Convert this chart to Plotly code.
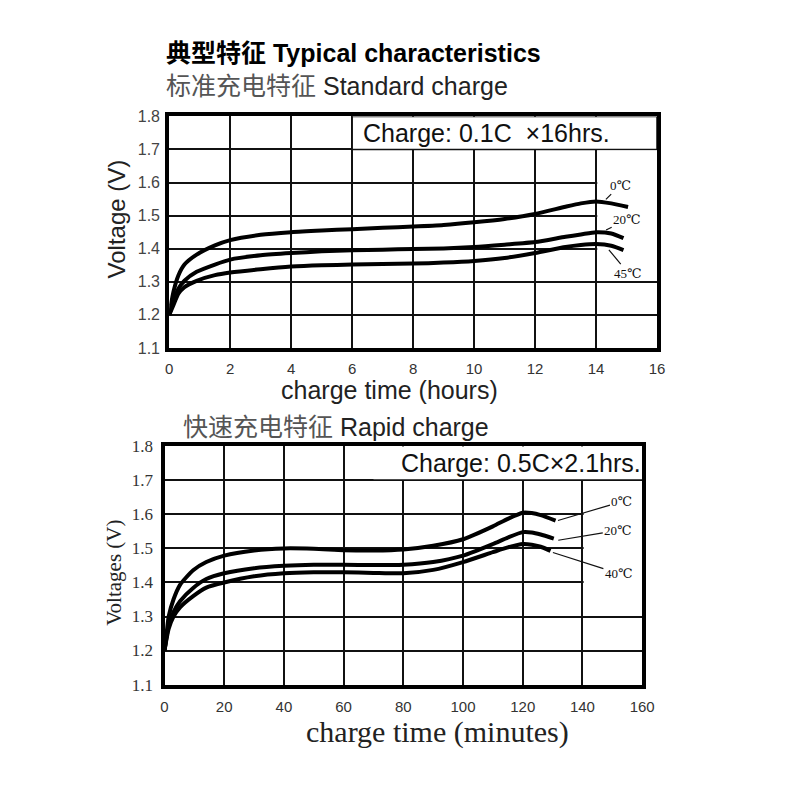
import plotly.graph_objects as go

# ---------------- data: standard charge (0.1C x 16 h) ----------------
std_t_0 = [0, 0.14, 0.3, 0.5, 0.9, 1.5, 2, 3, 4, 5, 6, 7, 8, 9, 10, 11, 12, 13, 13.5, 14, 14.5, 15.05]
std_v_0 = [1.20, 1.27, 1.319, 1.352, 1.382, 1.41, 1.426, 1.442, 1.45, 1.455, 1.459, 1.463, 1.467, 1.472,
           1.48, 1.49, 1.505, 1.527, 1.537, 1.543, 1.537, 1.526]
std_t_20 = [0, 0.14, 0.3, 0.5, 0.9, 1.5, 2, 3, 4, 5, 6, 7, 8, 9, 10, 11, 12, 13, 13.5, 14, 14.5, 14.9]
std_v_20 = [1.20, 1.24, 1.279, 1.303, 1.33, 1.352, 1.367, 1.38, 1.387, 1.392, 1.395, 1.397, 1.399, 1.401,
            1.405, 1.412, 1.42, 1.436, 1.443, 1.45, 1.446, 1.432]
std_t_45 = [0, 0.14, 0.3, 0.5, 0.9, 1.5, 2, 3, 4, 5, 6, 7, 8, 9, 10, 11, 12, 13, 13.5, 14, 14.5, 14.9]
std_v_45 = [1.20, 1.23, 1.264, 1.284, 1.303, 1.32, 1.328, 1.338, 1.346, 1.35, 1.352, 1.354, 1.355,
            1.358, 1.363, 1.372, 1.387, 1.405, 1.411, 1.414, 1.409, 1.396]

# ---------------- data: rapid charge (0.5C x 2.1 h) ----------------
rap_t_0 = [0, 0.7, 1.4, 3, 5.2, 9.6, 14, 20, 30, 40, 50, 60, 70, 80, 90, 100, 110, 115, 120, 123, 126, 131]
rap_v_0 = [1.20, 1.25, 1.30, 1.35, 1.393, 1.436, 1.46, 1.479, 1.494, 1.50, 1.499, 1.495, 1.494, 1.497,
           1.508, 1.527, 1.565, 1.587, 1.605, 1.604, 1.598, 1.582]
rap_t_20 = [0, 0.7, 1.4, 3, 5.2, 9.6, 14, 20, 30, 40, 50, 60, 70, 80, 90, 100, 110, 115, 120, 123, 126, 130.4]
rap_v_20 = [1.20, 1.24, 1.274, 1.313, 1.345, 1.384, 1.41, 1.427, 1.442, 1.449, 1.452, 1.452, 1.451,
            1.452, 1.46, 1.479, 1.513, 1.532, 1.548, 1.547, 1.541, 1.529]
rap_t_40 = [0, 0.7, 1.4, 3, 5.2, 9.6, 14, 20, 30, 40, 50, 60, 70, 80, 90, 100, 110, 115, 120, 123, 126, 129.3]
rap_v_40 = [1.20, 1.235, 1.264, 1.30, 1.327, 1.36, 1.385, 1.40, 1.418, 1.427, 1.43, 1.43, 1.428,
            1.427, 1.437, 1.46, 1.489, 1.503, 1.513, 1.511, 1.505, 1.493]

std_labels = ["0℃", "20℃", "45℃"]
rap_labels = ["0℃", "20℃", "40℃"]

SANS = "Liberation Sans, Arial, Noto Sans CJK SC, sans-serif"
SERIF = "Liberation Serif, Times New Roman, DejaVu Serif, serif"

fig = go.Figure()

for t, v in [(std_t_0, std_v_0), (std_t_20, std_v_20), (std_t_45, std_v_45)]:
    fig.add_trace(go.Scatter(x=t, y=v, mode="lines", xaxis="x", yaxis="y",
                             line=dict(color="black", width=4, shape="spline", smoothing=0.6),
                             showlegend=False, hoverinfo="skip"))
for t, v in [(rap_t_0, rap_v_0), (rap_t_20, rap_v_20), (rap_t_40, rap_v_40)]:
    fig.add_trace(go.Scatter(x=t, y=v, mode="lines", xaxis="x2", yaxis="y2",
                             line=dict(color="black", width=4, shape="spline", smoothing=0.6),
                             showlegend=False, hoverinfo="skip"))

axis_common = dict(showgrid=True, gridcolor="#111", gridwidth=1.6, showline=True, linewidth=4,
                   linecolor="black", mirror=True, zeroline=False, ticks="outside",
                   tickcolor="rgba(0,0,0,0)", fixedrange=True)

fig.update_layout(
    width=800, height=800, margin=dict(l=0, r=0, t=0, b=0),
    paper_bgcolor="white", plot_bgcolor="white",
    xaxis=dict(domain=[0.211, 0.834], range=[0, 16], dtick=2, anchor="y", ticklen=4,
               tickfont=dict(family=SANS, size=15, color="#333"), **axis_common),
    yaxis=dict(domain=[0.566, 0.8625], range=[1.1, 1.8], dtick=0.1, tickformat=".1f", anchor="x",
               ticklen=2, tickfont=dict(family=SANS, size=16, color="#444"), **axis_common),
    xaxis2=dict(domain=[0.205, 0.815], range=[0, 160], dtick=20, anchor="y2", ticklen=5,
                tickfont=dict(family=SANS, size=15, color="#333"), **axis_common),
    yaxis2=dict(domain=[0.135, 0.44], range=[1.1, 1.8], dtick=0.1, tickformat=".1f", anchor="x2",
                ticklen=4, tickfont=dict(family=SERIF, size=17, color="#333"), **axis_common),
)

# white boxes (text box and label area)
shapes = [
    dict(type="rect", xref="x", yref="y", x0=6, x1=16, y0=1.7, y1=1.8, layer="between",
         fillcolor="white", line=dict(color="#111", width=1.6)),
    dict(type="rect", xref="x", yref="y", x0=14.04, x1=16, y0=1.303, y1=1.697, layer="between",
         fillcolor="white", line=dict(width=0)),
    dict(type="rect", xref="x2", yref="y2", x0=70, x1=160, y0=1.703, y1=1.8, layer="between",
         fillcolor="white", line=dict(width=0)),
    dict(type="rect", xref="x2", yref="y2", x0=140.4, x1=160, y0=1.303, y1=1.697, layer="between",
         fillcolor="white", line=dict(width=0)),
]
fig.update_layout(shapes=shapes)

ann = []
# titles
ann.append(dict(xref="paper", yref="paper", x=163/800, y=1-45/800, xanchor="left", yanchor="middle",
                text="<b>典型特征 Typical characteristics</b>", showarrow=False,
                font=dict(family=SANS, size=25, color="black")))
ann.append(dict(xref="paper", yref="paper", x=163/800, y=1-79/800, xanchor="left", yanchor="middle",
                text="<span style='color:#555'>标准充电特征</span> Standard charge", showarrow=False,
                font=dict(family=SANS, size=25, color="#222")))
ann.append(dict(xref="paper", yref="paper", x=181/800, y=1-428/800, xanchor="left", yanchor="middle",
                text="<span style='color:#555'>快速充电特征</span> Rapid charge", showarrow=False,
                font=dict(family=SANS, size=25, color="#222")))
# box texts
ann.append(dict(xref="x", yref="y", x=6.3, y=1.75, xanchor="left", yanchor="middle",
                text="Charge: 0.1C\u00a0 ×16hrs.", showarrow=False,
                font=dict(family=SANS, size=25, color="#111")))
ann.append(dict(xref="x2", yref="y2", x=78.4, y=1.75, xanchor="left", yanchor="middle",
                text="Charge: 0.5C×2.1hrs.", showarrow=False,
                font=dict(family=SANS, size=25, color="#111")))
# axis titles
ann.append(dict(xref="paper", yref="paper", x=115/800, y=1-215/800, textangle=-90,
                xanchor="center", yanchor="middle",
                text="Voltage (V)", showarrow=False, font=dict(family=SANS, size=24, color="#222")))
ann.append(dict(xref="paper", yref="paper", x=113/800, y=1-578/800, textangle=-90,
                xanchor="center", yanchor="middle",
                text="Voltages (V)", showarrow=False, font=dict(family=SERIF, size=21, color="#222")))
ann.append(dict(xref="paper", yref="paper", x=394/800, y=1-390/800, xanchor="center", yanchor="middle",
                text="charge time (hours)", showarrow=False, font=dict(family=SANS, size=25, color="#222")))
ann.append(dict(xref="paper", yref="paper", x=443/800, y=1-741/800, xanchor="center", yanchor="middle",
                text="charge time (minutes)", showarrow=False, font=dict(family=SERIF, size=30, color="#222")))

# curve labels with leader lines
lab_font = dict(family=SERIF, size=13, color="#111")
std_pts = [(std_t_0[-2] - 0.2, std_v_0[-2] + 0.01, 15, -15),
           (std_t_20[-3] + 0.3, std_v_20[-3] + 0.005, 22, -11),
           (std_t_45[-2] - 0.1, std_v_45[-2] - 0.01, 20, 24)]
for (x, y, ax, ay), lab in zip(std_pts, std_labels):
    ann.append(dict(xref="x", yref="y", x=x, y=y, ax=ax, ay=ay, text=lab, showarrow=True,
                    arrowhead=0, arrowwidth=1.2, arrowcolor="#111", font=lab_font, standoff=1))
rap_pts = [(rap_t_0[-1] + 0.8, rap_v_0[-1], 64, -19),
           (rap_t_20[-1] + 1.5, rap_v_20[-1] - 0.005, 60, -10),
           (rap_t_40[-1] + 0.8, rap_v_40[-1] - 0.005, 66, 21)]
for (x, y, ax, ay), lab in zip(rap_pts, rap_labels):
    ann.append(dict(xref="x2", yref="y2", x=x, y=y, ax=ax, ay=ay, text=lab, showarrow=True,
                    arrowhead=0, arrowwidth=1.2, arrowcolor="#111", font=lab_font, standoff=0))

fig.update_layout(annotations=ann)
fig.write_html("out.html")
